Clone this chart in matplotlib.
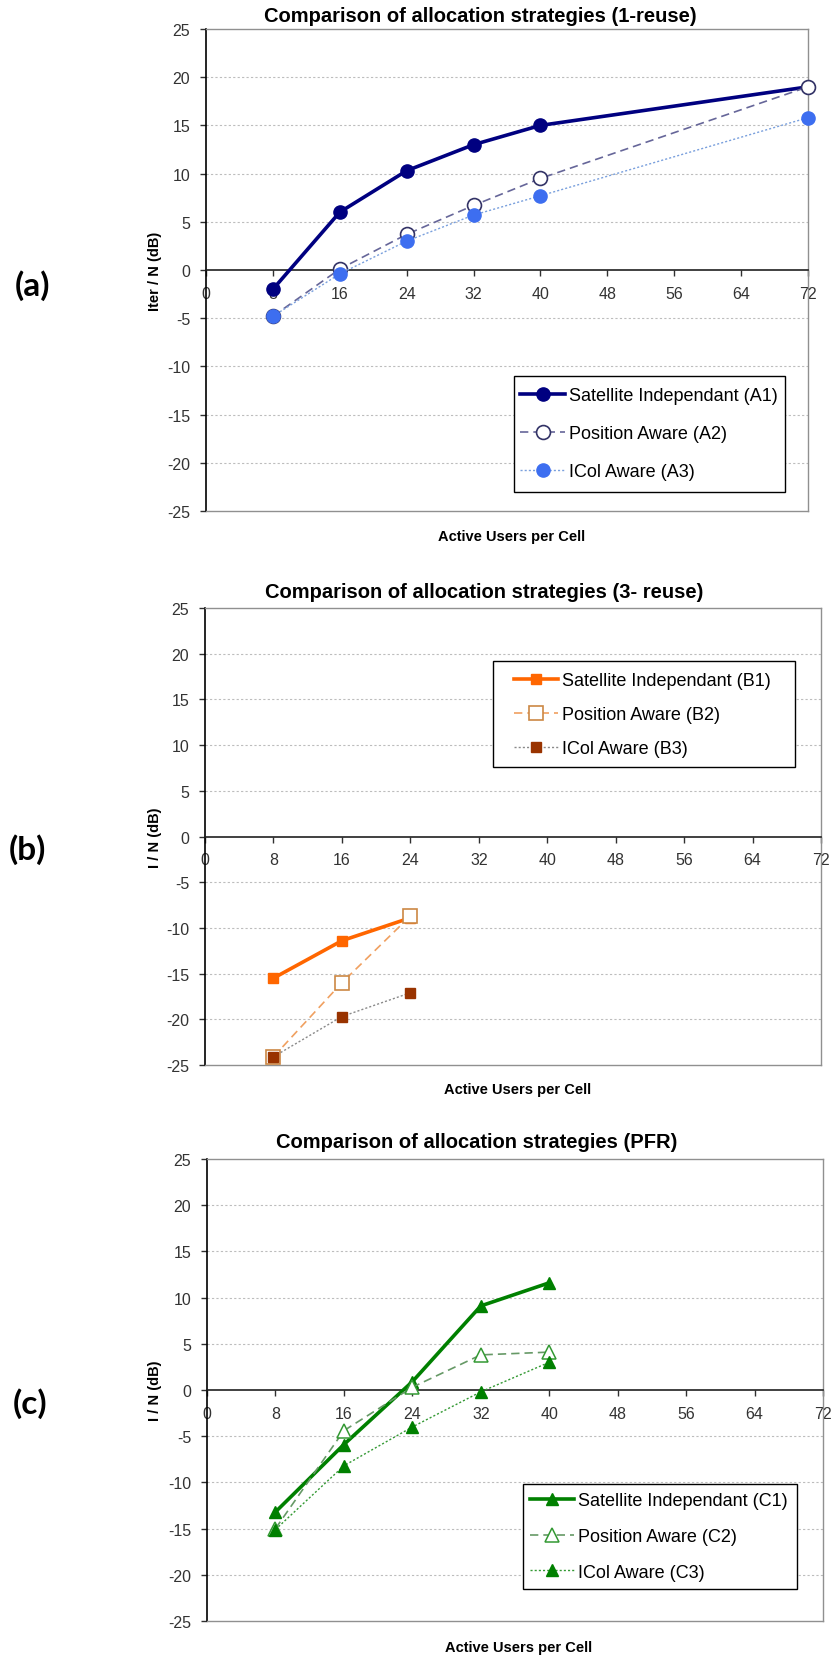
import matplotlib
matplotlib.use("Agg")
import matplotlib.pyplot as plt
from matplotlib.path import Path

plt.rcParams['font.family'] = ['Liberation Sans', 'DejaVu Sans']

# ---------------- data ----------------
x_ticks = [0, 8, 16, 24, 32, 40, 48, 56, 64, 72]
y_ticks = [-25, -20, -15, -10, -5, 0, 5, 10, 15, 20, 25]

x_a = [8, 16, 24, 32, 40, 72]
a1 = [-2.0, 6.0, 10.3, 13.0, 15.0, 19.0]
a2 = [-4.8, 0.1, 3.7, 6.7, 9.5, 19.0]
a3 = [-4.8, -0.4, 3.0, 5.7, 7.7, 15.8]

x_b = [8, 16, 24]
b1 = [-15.5, -11.4, -8.9]
b2 = [-24.1, -16.0, -8.7]
b3 = [-24.1, -19.7, -17.1]

x_c = [8, 16, 24, 32, 40]
c1 = [-13.2, -5.9, 0.9, 9.1, 11.6]
c2 = [-15.0, -4.4, 0.3, 3.8, 4.1]
c3 = [-15.1, -8.2, -4.0, -0.2, 3.0]

titles = ["Comparison of allocation strategies (1-reuse)",
          "Comparison of allocation strategies (3- reuse)",
          "Comparison of allocation strategies (PFR)"]
ylabels = ["Iter / N (dB)", "I / N (dB)", "I / N (dB)"]
xlabel = "Active Users per Cell"
panel_labels = ["(a)", "(b)", "(c)"]
leg_a = ["Satellite Independant (A1)", "Position Aware (A2)", "ICol Aware (A3)"]
leg_b = ["Satellite Independant (B1)", "Position Aware (B2)", "ICol Aware (B3)"]
leg_c = ["Satellite Independant (C1)", "Position Aware (C2)", "ICol Aware (C3)"]

W, H = 834, 1658
fig = plt.figure(figsize=(W / 100, H / 100), dpi=100)


def px_ax(l, r, t, b):
    return fig.add_axes([l / W, 1 - b / H, (r - l) / W, (b - t) / H])


def style_axis(ax):
    ax.set_xlim(0, 72)
    ax.set_ylim(-25, 25)
    ax.set_xticks(x_ticks)
    ax.set_xticklabels([str(v) for v in x_ticks])
    ax.set_yticks(y_ticks)
    ax.set_yticklabels([str(v) for v in y_ticks])
    for v in y_ticks:
        if v not in (0, -25, 25):
            ax.axhline(v, color='#bdbdbd', lw=0.8, ls=(0, (2, 2)), zorder=0)
    ax.spines['bottom'].set_position(('data', 0))
    ax.spines['bottom'].set_color('#202020')
    ax.spines['bottom'].set_linewidth(1.2)
    ax.spines['left'].set_color('black')
    ax.spines['left'].set_linewidth(1.2)
    for s in ('top', 'right'):
        ax.spines[s].set_color('#909090')
        ax.spines[s].set_linewidth(1.0)
    ax.plot([0, 1], [0, 0], transform=ax.transAxes, color='#909090', lw=1.0,
            clip_on=False, zorder=3)
    ax.tick_params(axis='x', direction='out', length=4, width=1, color='#303030',
                   pad=7.5, labelsize=11.5, labelcolor='#333333')
    ax.tick_params(axis='y', direction='out', length=4, width=1, color='#303030',
                   pad=7.5, labelsize=11.5, labelcolor='#333333')


# ---------------- panel (a) ----------------
ax_a = px_ax(206, 808, 30, 512)
style_axis(ax_a)
ax_a.plot(x_a, a1, color='#000080', lw=2.6, marker='o', ms=9.5,
          mfc='#000080', mec='#000080', label=leg_a[0], zorder=4, clip_on=False)
ax_a.plot(x_a, a2, color='#666699', lw=1.2, ls=(0, (5, 3)), marker='o', ms=10,
          mfc='white', mec='#333366', mew=1.2, label=leg_a[1], zorder=5, clip_on=False)
ax_a.plot(x_a, a3, color='#7aa0dd', lw=1.0, ls=(0, (1.5, 1.5)), marker='o', ms=9.5,
          mfc='#3d6ef0', mec='#3d6ef0', label=leg_a[2], zorder=6, clip_on=False)

# ---------------- panel (b) ----------------
ax_b = px_ax(205, 821, 609, 1066)
style_axis(ax_b)
ax_b.plot(x_b, b1, color='#ff6600', lw=2.6, marker='s', ms=7.5,
          mfc='#ff6600', mec='#ff6600', label=leg_b[0], zorder=4, clip_on=False)
ax_b.plot(x_b, b2, color='#f0a060', lw=1.2, ls=(0, (5, 3)), marker='s', ms=10,
          mfc='white', mec='#cc8844', mew=1.2, label=leg_b[1], zorder=5, clip_on=False)
ax_b.plot(x_b, b3, color='#8a8a8a', lw=1.0, ls=(0, (1.5, 1.5)), marker='s', ms=7.5,
          mfc='#993300', mec='#993300', label=leg_b[2], zorder=6, clip_on=False)

# ---------------- panel (c) ----------------
ax_c = px_ax(207, 823, 1160, 1622)
style_axis(ax_c)
ax_c.plot(x_c, c1, color='#008000', lw=2.6, marker='^', ms=9,
          mfc='#008000', mec='#008000', label=leg_c[0], zorder=4, clip_on=False)
ax_c.plot(x_c, c2, color='#669966', lw=1.2, ls=(0, (5, 3)), marker='^', ms=9.5,
          mfc='white', mec='#339933', mew=1.1, label=leg_c[1], zorder=5, clip_on=False)
ax_c.plot(x_c, c3, color='#339933', lw=1.0, ls=(0, (1.5, 1.5)), marker='^', ms=8.5,
          mfc='#008000', mec='#008000', label=leg_c[2], zorder=6, clip_on=False)


# ---------------- legends ----------------
def frame_style(fx0, fx1, fy0, fy1):
    # rectangular legend frame at fixed pixel bounds (top-left origin coords)
    def style(x0, y0, width, height, mutation_size):
        ya, yb = H - fy1, H - fy0
        return Path([(fx0, ya), (fx1, ya), (fx1, yb), (fx0, yb), (fx0, ya)],
                    closed=True)
    return style


BP = 0.4


def add_legend(ax, hx, row1, spacing, frame):
    fs_px = 13 * 100 / 72
    left = hx - BP * fs_px
    top = row1 - 8.55 - BP * fs_px
    leg = ax.legend(loc='upper left', bbox_to_anchor=(left / W, 1 - top / H),
                    bbox_transform=fig.transFigure, borderaxespad=0,
                    fontsize=13, frameon=True, fancybox=False, shadow=False,
                    edgecolor='black', framealpha=1, numpoints=1,
                    handlelength=2.45, handletextpad=0.24,
                    labelspacing=spacing, borderpad=BP)
    fr = leg.get_frame()
    fr.set_linewidth(1.0)
    fr.set_boxstyle(frame_style(*frame))
    leg.set_zorder(10)
    return leg


add_legend(ax_a, 520.4, 396.7, 1.17, (513.7, 785.4, 376.7, 493.3))
add_legend(ax_b, 513.9, 681.7, 0.95, (493.0, 795.0, 661.7, 768.3))
add_legend(ax_c, 529.6, 1501.7, 1.04, (522.7, 797.4, 1485.0, 1590.0))

# ---------------- text ----------------
title_pos = [(480, 17), (484, 592), (477, 1143)]
xlabel_pos = [(512, 537), (518, 1090), (519, 1648)]
ylabel_pos = [(155, 271), (155, 838), (155, 1391)]
panel_pos = [(33, 286), (27, 850), (30, 1404)]

for (tx, ty), t in zip(title_pos, titles):
    fig.text(tx / W, 1 - ty / H, t, ha='center', va='center',
             fontsize=14.5, fontweight='bold', color='black')
for (tx, ty) in xlabel_pos:
    fig.text(tx / W, 1 - ty / H, xlabel, ha='center', va='center',
             fontsize=10.5, fontweight='bold', color='black')
for (tx, ty), t in zip(ylabel_pos, ylabels):
    fig.text(tx / W, 1 - ty / H, t, ha='center', va='center', rotation=90,
             fontsize=10.5, fontweight='bold', color='black')
for (tx, ty), t in zip(panel_pos, panel_labels):
    fig.text(tx / W, 1 - ty / H, t, ha='center', va='center',
             fontsize=24, fontweight='bold', color='black',
             family=['Lato', 'DejaVu Sans'])

fig.savefig('out.png', dpi=100, facecolor='white')
